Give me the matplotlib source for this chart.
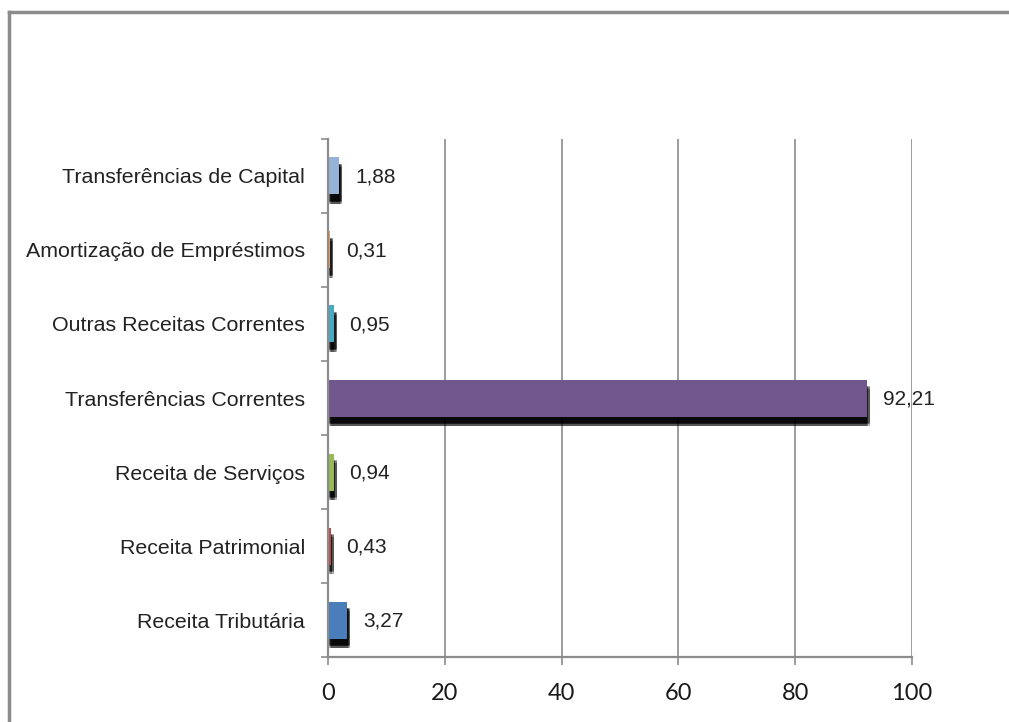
import matplotlib
matplotlib.use("Agg")
import matplotlib.pyplot as plt
import matplotlib.patheffects as pe
from matplotlib.lines import Line2D
import numpy as np

categorias = ['Receita Tributária', 'Receita Patrimonial', 'Receita de Serviços',
              'Transferências Correntes', 'Outras Receitas Correntes',
              'Amortização de Empréstimos', 'Transferências de Capital']
valores = [3.27, 0.43, 0.94, 92.21, 0.95, 0.31, 1.88]
rotulos = ['3,27', '0,43', '0,94', '92,21', '0,95', '0,31', '1,88']
cores = ['#4A7EBB', '#BE4B48', '#98B954', '#72578F', '#46AAC5', '#F59D56', '#95B3D7']
xticks = [0, 20, 40, 60, 80, 100]

cinza = '#8C8C8C'

fig = plt.figure(figsize=(10.09, 7.22), dpi=100)
ax = fig.add_axes([0.3251, 0.0900, 0.5788, 0.7175])

# sombra borrada: varias copias deslocadas com pouca opacidade
sombra = []
for dx in [0.5, 1.4, 2.3]:
    for dy in [-4.4, -5.6, -6.8]:
        sombra.append(pe.SimplePatchShadow(offset=(dx, dy), shadow_rgbFace='black', alpha=0.3))
sombra.append(pe.Normal())

y = np.arange(len(categorias))
barras = ax.barh(y, valores, height=0.5, color=cores, zorder=3)
for b in barras:
    b.set_path_effects(sombra)

for yi, v, r in zip(y, valores, rotulos):
    ax.annotate(r, (v, yi), xytext=(11.5, -0.5), textcoords='offset points',
                ha='left', va='center', fontsize=15, family='Liberation Sans',
                color='#222222', zorder=4)

ax.set_xlim(0, 100)
ax.set_ylim(-0.5, len(categorias) - 0.5)
ax.set_xticks(xticks)
ax.set_xticklabels([str(t) for t in xticks], fontsize=17, family='Lato', color='#1a1a1a')
ax.set_yticks(y)
ax.set_yticklabels(categorias, fontsize=15.4, family='Liberation Sans', color='#222222')
ax.set_yticks(np.arange(-0.5, len(categorias), 1), minor=True)
ax.tick_params(axis='y', which='major', length=0, pad=16.5)
ax.tick_params(axis='y', which='minor', length=5, color=cinza, width=1.2)
ax.tick_params(axis='x', length=6, color=cinza, width=1.2, pad=13)

ax.grid(axis='x', color=cinza, linewidth=1.2, zorder=0)
for s in ['top', 'right']:
    ax.spines[s].set_visible(False)
for s in ['left', 'bottom']:
    ax.spines[s].set_color(cinza)
    ax.spines[s].set_linewidth(1.6)
    ax.spines[s].set_zorder(5)

# moldura do grafico
fig.add_artist(Line2D([0.0089, 1.0], [0.9834, 0.9834], color=cinza, linewidth=2.5))
fig.add_artist(Line2D([0.0089, 0.0089], [0.0, 0.9834], color=cinza, linewidth=2.5))

fig.savefig('out.png', dpi=100)
